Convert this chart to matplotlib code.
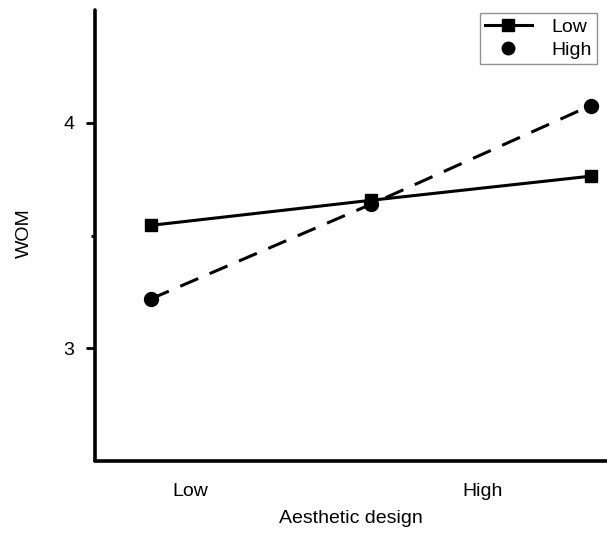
import matplotlib
matplotlib.use("Agg")
import matplotlib.pyplot as plt
from matplotlib.lines import Line2D

plt.rcParams['font.family'] = ['Liberation Sans', 'DejaVu Sans']
plt.rcParams['lines.scale_dashes'] = False

x_positions = [1, 2, 3]
low_values = [3.545, 3.656, 3.763]
high_values = [3.219, 3.638, 4.076]
series_names = ["Low", "High"]
xtick_labels = ["Low", "High"]
xtick_positions = [1.18, 2.51]
yticks = [3, 4]
yminor = [3.5]

fig = plt.figure(figsize=(6.07, 5.4), dpi=100)
ax = fig.add_axes([94.5/607, 1-461/540, 1-94.5/607, (461-10)/540])

ax.plot(x_positions, low_values, color='black', lw=2.2, marker='s', markersize=9,
        linestyle='-', zorder=3)
ax.plot(x_positions, high_values, color='black', lw=2.2, marker='o', markersize=10,
        dashes=(14, 9), zorder=3)

ax.set_xlim(1 - 56.5/220, 1 + 456.5/220)
ax.set_ylim(2.5, 4.5)

for s in ['top', 'right']:
    ax.spines[s].set_visible(False)
for s in ['left', 'bottom']:
    ax.spines[s].set_linewidth(2.6)
    ax.spines[s].set_capstyle('round')

ax.set_yticks(yticks)
ax.set_yticks(yminor, minor=True)
ax.set_yticklabels([str(v) for v in yticks], fontsize=14)
ax.tick_params(axis='y', which='major', direction='out', length=6.5, width=2.0, pad=8)
ax.tick_params(axis='y', which='minor', direction='out', length=3, width=2.0)
ax.set_xticks(xtick_positions)
ax.set_xticklabels(xtick_labels, fontsize=14)
ax.tick_params(axis='x', length=0, pad=16)

ax.set_xlabel("Aesthetic design", fontsize=14, labelpad=7)
ax.set_ylabel("WOM", fontsize=14)
ax.yaxis.set_label_coords((33 - 94.5) / 512.5, (461 - 233) / 451)

handles = [Line2D([0], [0], color='black', lw=2.2, marker='s', markersize=8),
           Line2D([0], [0], color='black', lw=0, marker='o', markersize=9)]
leg = ax.legend(handles, series_names, loc='upper right',
                bbox_to_anchor=(597/607, 1 - 13/540),
                bbox_transform=fig.transFigure, fontsize=14, frameon=True, fancybox=False,
                edgecolor='#777777', handlelength=2.4, handletextpad=1.0,
                borderpad=0.28, labelspacing=0.25, borderaxespad=0.0)
leg.get_frame().set_linewidth(1.0)

fig.savefig("out.png", dpi=100)
